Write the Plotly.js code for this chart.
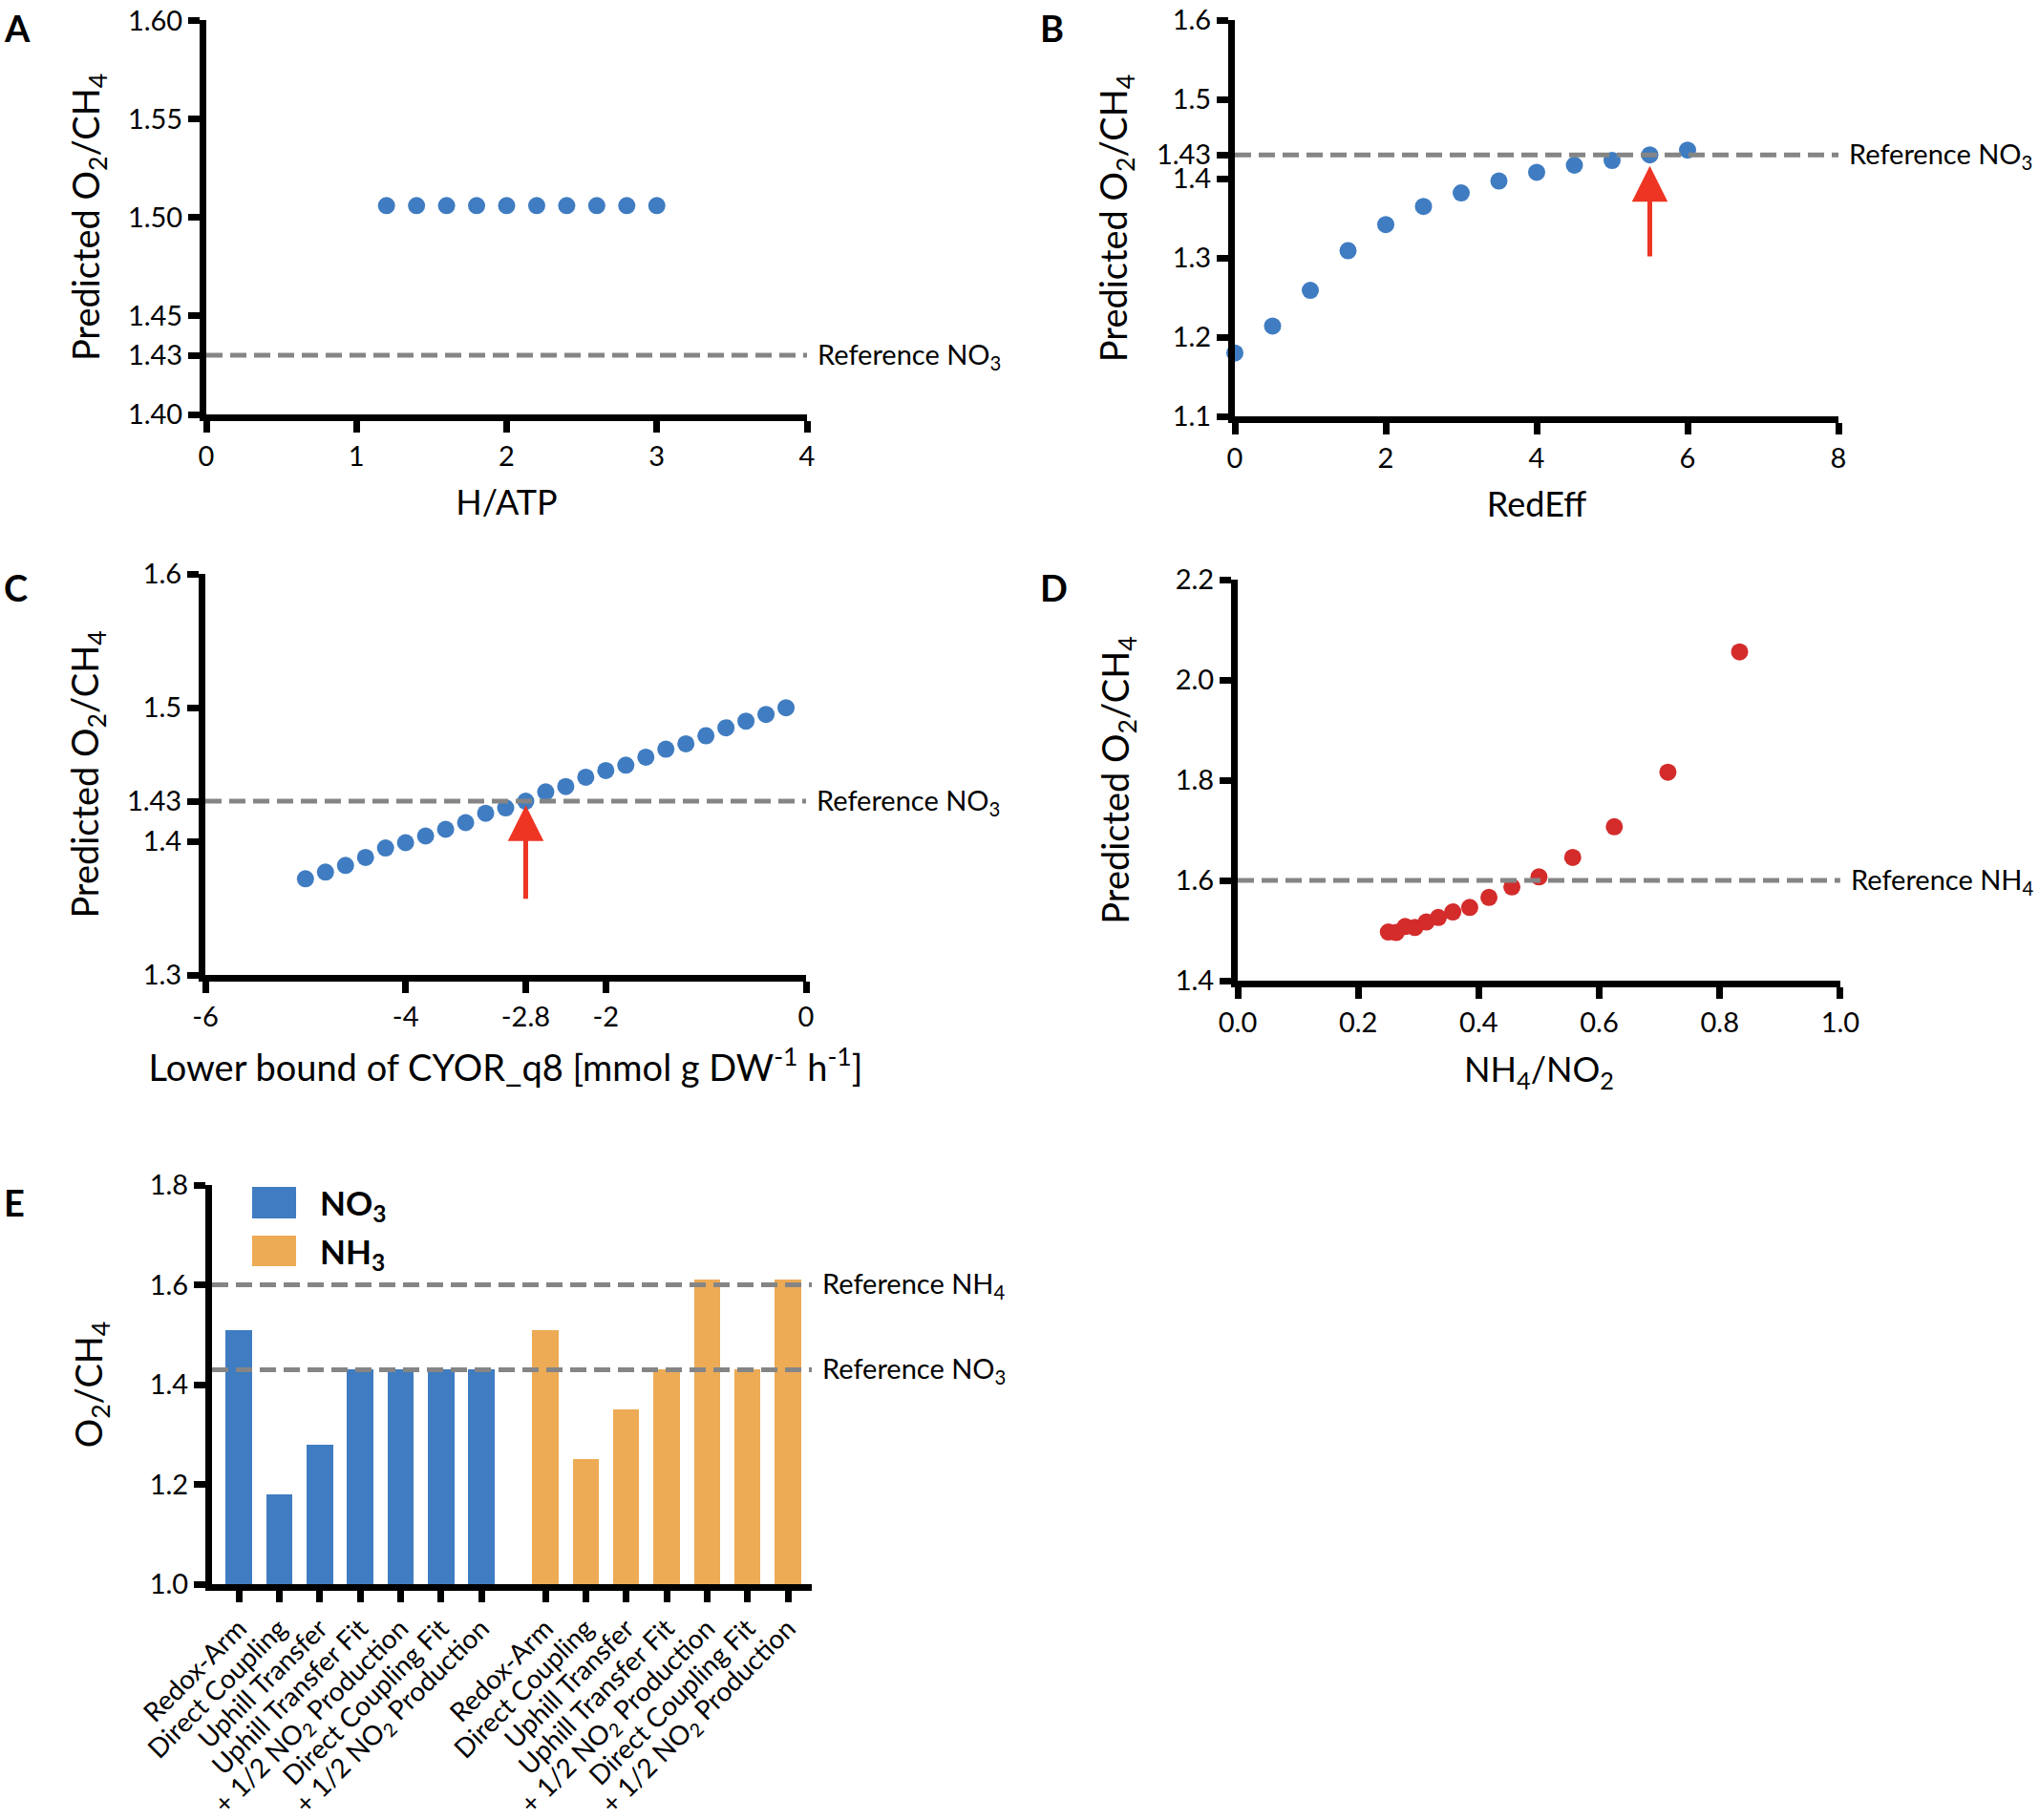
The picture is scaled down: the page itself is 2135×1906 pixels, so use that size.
<!DOCTYPE html>
<html>
<head>
<meta charset="utf-8">
<script src="https://cdn.plot.ly/plotly-3.0.1.min.js"></script>
<style>html,body{margin:0;padding:0;background:#fff;}#chart{width:2135px;height:1906px;}</style>
</head>
<body>
<div id="chart"></div>
<script>
// ---------- DATA ----------
const hatpX = [1.2, 1.4, 1.6, 1.8, 2.0, 2.2, 2.4, 2.6, 2.8, 3.0];
const hatpY = [1.506, 1.506, 1.506, 1.506, 1.506, 1.506, 1.506, 1.506, 1.506, 1.506];

const redEffX = [0, 0.5, 1, 1.5, 2, 2.5, 3, 3.5, 4, 4.5, 5, 5.5, 6];
const redEffY = [1.180, 1.214, 1.259, 1.309, 1.342, 1.365, 1.382, 1.397, 1.408, 1.417, 1.423, 1.430, 1.436];

const cyorX = [-5.0, -4.8, -4.6, -4.4, -4.2, -4.0, -3.8, -3.6, -3.4, -3.2, -3.0, -2.8, -2.6,
               -2.4, -2.2, -2.0, -1.8, -1.6, -1.4, -1.2, -1.0, -0.8, -0.6, -0.4, -0.2];
const cyorY = [1.372, 1.377, 1.382, 1.388, 1.395, 1.399, 1.404, 1.409, 1.414, 1.421, 1.425, 1.430, 1.437,
               1.441, 1.448, 1.453, 1.457, 1.463, 1.469, 1.473, 1.479, 1.485, 1.490, 1.495, 1.500];

const nhX = [0.250, 0.263, 0.278, 0.294, 0.313, 0.333, 0.357, 0.385, 0.417, 0.455, 0.500, 0.556, 0.625, 0.714, 0.833];
const nhY = [1.497, 1.496, 1.508, 1.506, 1.517, 1.526, 1.537, 1.546, 1.566, 1.587, 1.607, 1.646, 1.707, 1.816, 2.056];

const barLabels = ['Redox-Arm', 'Direct Coupling', 'Uphill Transfer', 'Uphill Transfer Fit',
                   '+\u00a01/2 NO<sub>2</sub> Production', 'Direct Coupling Fit',
                   '+\u00a01/2 NO<sub>2</sub> Production'];
const no3Values = [1.51, 1.18, 1.28, 1.43, 1.43, 1.43, 1.43];
const nh3Values = [1.51, 1.25, 1.35, 1.43, 1.61, 1.43, 1.61];

const refNO3 = 1.43;
const refNH4 = 1.60;

// red arrows: x, tip y, tail y
const arrowB = {x: 5.5, tip: 1.416, tail: 1.300};
const arrowC = {x: -2.8, tip: 1.427, tail: 1.356};

// ---------- LAYOUT HELPERS ----------
const W = 2135, H = 1906;
const px = (a, b) => [a / W, b / W];
const py = (top, bottom) => [1 - bottom / H, 1 - top / H];
const FONT = "Lato, 'DejaVu Sans', sans-serif";
const BLUE = '#3f7cc1', ORANGE = '#edab55', RED = '#d42b2b', ARROW = '#ee3524', DASH = '#858585';
const EPS = 0.0002;

function axisBase(extra) {
  return Object.assign({
    showline: true, linewidth: 7, linecolor: '#000', mirror: false,
    ticks: 'outside', ticklen: 12, tickwidth: 7, tickcolor: '#000',
    showgrid: false, zeroline: false, automargin: false, fixedrange: true,
    ticklabeloverflow: 'allow',
    tickfont: {family: FONT, size: 29, color: '#000'}
  }, extra);
}
function ttl(text, standoff, size) {
  return {text: text, font: {family: FONT, size: size || 36, color: '#000'}, standoff: standoff};
}

const groupGap = 7.58;
const barXBlue = no3Values.map((v, i) => i);
const barXOrange = nh3Values.map((v, i) => i + groupGap);
const eRange = [-0.665, 14.17];

const yTitle = 'Predicted O<sub>2</sub>/CH<sub>4</sub>';

const traces = [
  {type: 'scatter', mode: 'markers', x: hatpX, y: hatpY, xaxis: 'x', yaxis: 'y',
   marker: {size: 18, color: BLUE}, cliponaxis: false, showlegend: false},
  {type: 'scatter', mode: 'markers', x: redEffX, y: redEffY, xaxis: 'x2', yaxis: 'y2',
   marker: {size: 18, color: BLUE}, cliponaxis: false, showlegend: false},
  {type: 'scatter', mode: 'markers', x: cyorX, y: cyorY, xaxis: 'x3', yaxis: 'y3',
   marker: {size: 18, color: BLUE}, cliponaxis: false, showlegend: false},
  {type: 'scatter', mode: 'markers', x: nhX, y: nhY, xaxis: 'x4', yaxis: 'y4',
   marker: {size: 18, color: RED}, cliponaxis: false, showlegend: false},
  {type: 'bar', name: 'NO3', x: barXBlue, y: no3Values, xaxis: 'x5', yaxis: 'y5',
   width: 0.65, marker: {color: BLUE, line: {width: 0}}, showlegend: false},
  {type: 'bar', name: 'NH3', x: barXOrange, y: nh3Values, xaxis: 'x5', yaxis: 'y5',
   width: 0.65, marker: {color: ORANGE, line: {width: 0}}, showlegend: false}
];

function refLine(xa, ya, x0, x1, yv) {
  return {type: 'line', xref: xa, yref: ya, x0: x0, x1: x1, y0: yv, y1: yv, layer: 'above',
          line: {color: DASH, width: 5, dash: '17px,8px'}};
}
function refText(xa, ya, xv, yv, txt) {
  return {xref: xa, yref: ya, x: xv, y: yv, text: txt, showarrow: false, xanchor: 'left', yanchor: 'middle',
          xshift: 9, font: {family: FONT, size: 29, color: '#000'}};
}
function arrowAnn(xa, ya, a) {
  return {xref: xa, yref: ya, axref: xa, ayref: ya, x: a.x, y: a.tip, ax: a.x, ay: a.tail, text: '',
          showarrow: true, arrowhead: 2, arrowsize: 1.5, arrowwidth: 5, arrowcolor: ARROW, standoff: 0};
}
function letter(t, xp, yp) {
  return {xref: 'paper', yref: 'paper', x: xp / W, y: 1 - yp / H, text: '<b>' + t + '</b>', showarrow: false,
          xanchor: 'left', yanchor: 'top', font: {family: FONT, size: 38, color: '#000'}};
}

const layout = {
  width: W, height: H, margin: {l: 0, r: 0, t: 0, b: 0},
  paper_bgcolor: '#fff', plot_bgcolor: 'rgba(0,0,0,0)', showlegend: false, bargap: 0,
  font: {family: FONT, color: '#000'},
  // A
  xaxis: axisBase({domain: px(216, 845), anchor: 'y', range: [0, 4], tickvals: [0, 1, 2, 3, 4],
                   title: ttl('H/ATP', 24)}),
  yaxis: axisBase({domain: py(21, 434), anchor: 'x', range: [1.40, 1.60 + EPS],
                   tickvals: [1.40, 1.43, 1.45, 1.50, 1.55, 1.60], tickformat: '.2f',
                   title: ttl(yTitle, 20, 38)}),
  // B
  xaxis2: axisBase({domain: px(1293, 1925), anchor: 'y2', range: [0, 8], tickvals: [0, 2, 4, 6, 8],
                    title: ttl('RedEff', 24)}),
  yaxis2: axisBase({domain: py(21, 436), anchor: 'x2', range: [1.1, 1.6 + EPS],
                    tickvals: [1.1, 1.2, 1.3, 1.4, 1.43, 1.5, 1.6], ticktext: ['1.1', '1.2', '1.3', '1.4', '1.43', '1.5', '1.6'],
                    title: ttl(yTitle, 21, 38)}),
  // C
  xaxis3: axisBase({domain: px(215, 844), anchor: 'y3', range: [-6, 0], tickvals: [-6, -4, -2.8, -2, 0],
                    ticktext: ['-6', '-4', '-2.8', '-2', '0'],
                    title: ttl('Lower bound of CYOR_q8 [mmol g DW<sup>-1</sup> h<sup>-1</sup>]', 28, 38)}),
  yaxis3: axisBase({domain: py(601, 1021), anchor: 'x3', range: [1.3, 1.6 + EPS],
                    tickvals: [1.3, 1.4, 1.43, 1.5, 1.6], ticktext: ['1.3', '1.4', '1.43', '1.5', '1.6'],
                    title: ttl(yTitle, 20, 38)}),
  // D
  xaxis4: axisBase({domain: px(1296, 1927), anchor: 'y4', range: [0, 1 + EPS], tickvals: [0, 0.2, 0.4, 0.6, 0.8, 1.0],
                    tickformat: '.1f', title: ttl('NH<sub>4</sub>/NO<sub>2</sub>', 25)}),
  yaxis4: axisBase({domain: py(607, 1027), anchor: 'x4', range: [1.4, 2.2 + EPS],
                    tickvals: [1.4, 1.6, 1.8, 2.0, 2.2], tickformat: '.1f',
                    title: ttl(yTitle, 39, 38)}),
  // E
  xaxis5: axisBase({domain: px(222, 850), anchor: 'y5', range: eRange,
                    tickvals: barXBlue.concat(barXOrange), ticktext: barLabels.concat(barLabels),
                    tickangle: -45, tickfont: {family: FONT, size: 28, color: '#000'}}),
  yaxis5: axisBase({domain: py(1241, 1659), anchor: 'x5', range: [1.0, 1.8 + EPS],
                    tickvals: [1.0, 1.2, 1.4, 1.6, 1.8], tickformat: '.1f',
                    title: ttl('O<sub>2</sub>/CH<sub>4</sub>', 40, 38)}),
  shapes: [
    refLine('x', 'y', 0, 4, refNO3),
    refLine('x2', 'y2', 0, 8, refNO3),
    refLine('x3', 'y3', -6, 0, refNO3),
    refLine('x4', 'y4', 0, 1, refNH4),
    refLine('x5', 'y5', eRange[0], eRange[1], refNH4),
    refLine('x5', 'y5', eRange[0], eRange[1], refNO3),
    // legend swatches (panel E)
    {type: 'rect', xref: 'paper', yref: 'paper', x0: 264 / W, x1: 310 / W, y0: 1 - 1276 / H, y1: 1 - 1243 / H,
     fillcolor: BLUE, line: {width: 0}},
    {type: 'rect', xref: 'paper', yref: 'paper', x0: 264 / W, x1: 310 / W, y0: 1 - 1326 / H, y1: 1 - 1294 / H,
     fillcolor: ORANGE, line: {width: 0}}
  ],
  annotations: [
    refText('x', 'y', 4, refNO3, 'Reference NO<sub>3</sub>'),
    refText('x2', 'y2', 8, refNO3, 'Reference NO<sub>3</sub>'),
    refText('x3', 'y3', 0, refNO3, 'Reference NO<sub>3</sub>'),
    refText('x4', 'y4', 1, refNH4, 'Reference NH<sub>4</sub>'),
    refText('x5', 'y5', eRange[1], refNH4, 'Reference NH<sub>4</sub>'),
    refText('x5', 'y5', eRange[1], refNO3, 'Reference NO<sub>3</sub>'),
    arrowAnn('x2', 'y2', arrowB),
    arrowAnn('x3', 'y3', arrowC),
    {xref: 'paper', yref: 'paper', x: 333 / W, y: 1 - 1261 / H, text: '<b>NO<sub>3</sub></b>', showarrow: false,
     xanchor: 'left', yanchor: 'middle', font: {family: FONT, size: 35, color: '#000'}},
    {xref: 'paper', yref: 'paper', x: 333 / W, y: 1 - 1312 / H, text: '<b>NH<sub>3</sub></b>', showarrow: false,
     xanchor: 'left', yanchor: 'middle', font: {family: FONT, size: 35, color: '#000'}},
    letter('A', 2, 4), letter('B', 1087, 4), letter('C', 2, 590), letter('D', 1087, 590), letter('E', 2, 1234)
  ]
};

Plotly.newPlot('chart', traces, layout, {staticPlot: true, displayModeBar: false});
</script>
</body>
</html>
